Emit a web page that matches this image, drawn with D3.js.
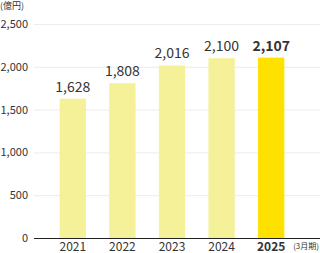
<!DOCTYPE html>
<html>
<head>
<meta charset="utf-8">
<script src="https://cdn.jsdelivr.net/npm/d3@7"></script>
<style>
  body { margin: 0; background: #fff; }
  svg { display: block; font-family: "Noto Sans CJK JP", "Noto Sans", sans-serif; }
</style>
</head>
<body>
<div id="chart"></div>
<script>
const years = ["2021", "2022", "2023", "2024", "2025"];
const values = [1628, 1808, 2016, 2100, 2107];
const yTicks = [0, 500, 1000, 1500, 2000, 2500];

const width = 320, height = 253;
const margin = { top: 24, right: 0, bottom: 15, left: 34 };

let svg = d3.select("#chart")
    .append("svg")
    .attr("width", width)
    .attr("height", height);

let x = d3.scaleBand()
    .domain(years)
    .range([48, 296])
    .paddingInner(0.47)
    .paddingOuter(0.235);

let y = d3.scaleLinear()
    .domain([0, 2500])
    .range([height - margin.bottom, margin.top]);

// gridlines
svg.append("g")
    .selectAll("line")
    .data(yTicks.slice(1))
    .enter()
    .append("line")
    .attr("x1", margin.left)
    .attr("x2", width)
    .attr("y1", d => y(d) + 0.5)
    .attr("y2", d => y(d) + 0.5)
    .attr("stroke", "#ececec")
    .attr("stroke-width", 1);

// y tick labels
svg.append("g")
    .selectAll("text")
    .data(yTicks)
    .enter()
    .append("text")
    .attr("x", 28)
    .attr("y", d => y(d) + 4)
    .style("text-anchor", "end")
    .style("font-size", "11px")
    .style("fill", "#333")
    .text(d => d3.format(",")(d));

svg.append("text")
    .attr("x", 0)
    .attr("y", 9)
    .style("font-size", "9px")
    .style("fill", "#333")
    .text("(億円)");

// bars
svg.append("g")
    .selectAll("rect")
    .data(values)
    .enter()
    .append("rect")
    .attr("x", (d, i) => x(years[i]))
    .attr("y", d => y(d))
    .attr("width", x.bandwidth())
    .attr("height", d => y(0) - y(d))
    .attr("fill", (d, i) => i === years.length - 1 ? "#ffe100" : "#f5f199");

// baseline
svg.append("line")
    .attr("x1", margin.left)
    .attr("x2", width)
    .attr("y1", y(0) + 0.5)
    .attr("y2", y(0) + 0.5)
    .attr("stroke", "#222")
    .attr("stroke-width", 1);

// value labels
svg.append("g")
    .selectAll("text")
    .data(values)
    .enter()
    .append("text")
    .attr("x", (d, i) => x(years[i]) + x.bandwidth() / 2)
    .attr("y", d => y(d) - 7)
    .style("text-anchor", "middle")
    .style("font-size", "14px")
    .style("font-weight", (d, i) => i === years.length - 1 ? "bold" : "normal")
    .style("fill", "#333")
    .text(d => d3.format(",")(d));

// x labels
svg.append("g")
    .selectAll("text")
    .data(years)
    .enter()
    .append("text")
    .attr("x", d => x(d) + x.bandwidth() / 2)
    .attr("y", 251)
    .style("text-anchor", "middle")
    .style("font-size", "12px")
    .style("font-weight", (d, i) => i === years.length - 1 ? "bold" : "normal")
    .style("fill", "#333")
    .text(d => d);

svg.append("text")
    .attr("x", 319)
    .attr("y", 249)
    .style("text-anchor", "end")
    .style("font-size", "8px")
    .style("fill", "#333")
    .text("(3月期)");
</script>
</body>
</html>
